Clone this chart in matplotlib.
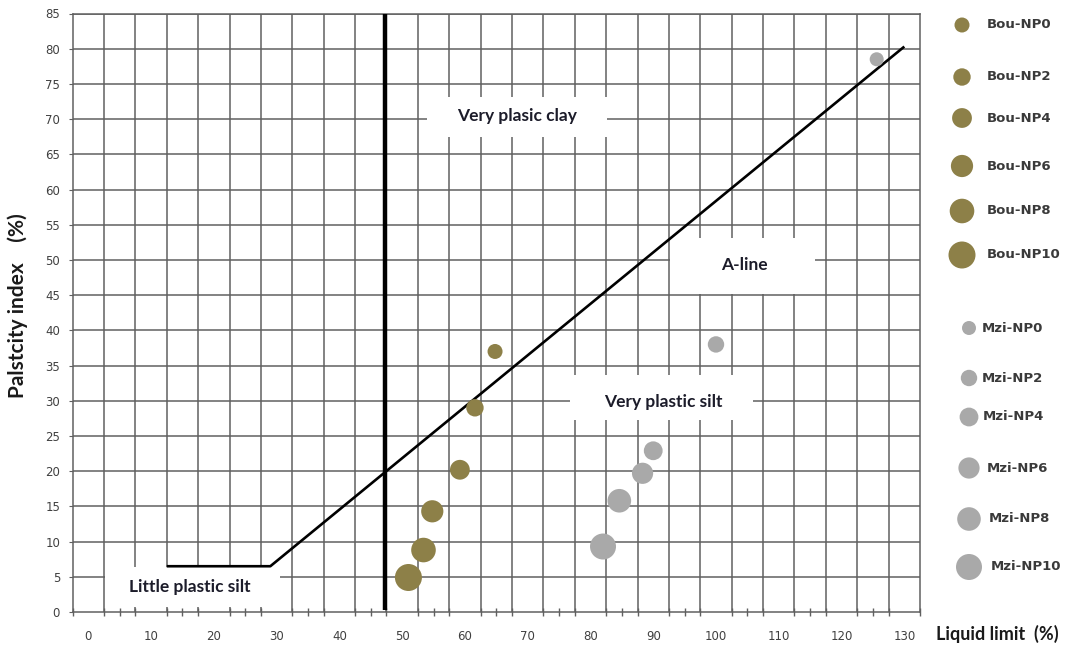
import matplotlib
matplotlib.use("Agg")
import matplotlib.pyplot as plt
from matplotlib.patches import Rectangle

# Liquid limit / plasticity index of the samples
bou_labels = ["Bou-NP0", "Bou-NP2", "Bou-NP4", "Bou-NP6", "Bou-NP8", "Bou-NP10"]
bou_ll = [64.8, 61.6, 59.2, 54.8, 53.4, 51.0]
bou_pi = [37.0, 29.0, 20.2, 14.3, 8.8, 4.9]

mzi_labels = ["Mzi-NP0", "Mzi-NP2", "Mzi-NP4", "Mzi-NP6", "Mzi-NP8", "Mzi-NP10"]
mzi_ll = [125.6, 100.0, 90.0, 88.3, 84.6, 82.0]
mzi_pi = [78.5, 38.0, 22.9, 19.7, 15.8, 9.3]

# A-line (with horizontal part) and the LL boundary
a_line_ll = [12.5, 29, 130]
a_line_pi = [6.5, 6.5, 80.3]
ll_limit = 47.2

x_ticks = list(range(0, 131, 10))
y_ticks = list(range(0, 86, 5))

BOU_COLOR = "#8d8048"
MZI_COLOR = "#a9a9a9"
GRID = "#606060"

W, H = 1075, 648
fig = plt.figure(figsize=(W / 100, H / 100), dpi=100)
ax = fig.add_axes([72.6 / W, 1 - 612 / H, (920 - 72.6) / W, (612 - 13.5) / H])

ax.set_xlim(-2.5, 132.5)
ax.set_ylim(0, 85)

# grid: vertical lines sit between the labelled values
for gx in [2.5 + 5 * k for k in range(26)]:
    ax.axvline(gx, color=GRID, lw=1.1, zorder=1)
for gy in y_ticks[1:]:
    ax.axhline(gy, color=GRID, lw=1.1, zorder=1)

for s in ax.spines.values():
    s.set_color(GRID)
    s.set_linewidth(1.1)

ax.set_xticks(x_ticks)
ax.set_xticks([-2.5 + 2.5 * k for k in range(55)], minor=True)
ax.set_yticks(y_ticks)
ax.tick_params(axis="x", which="major", length=0, pad=13, labelsize=8.5, labelcolor="#404040")
ax.tick_params(axis="x", which="minor", direction="inout", length=6, color=GRID, width=1)
ax.tick_params(axis="y", which="major", length=3, color=GRID, pad=6, labelsize=8.5, labelcolor="#404040")

# white label boxes over the grid
boxes = [
    (53.9, 67.5, 28.7, 5.7, 68.3, 70.5, "Very plasic clay"),
    (92.7, 45.2, 23.1, 7.9, 104.5, 49.3, "A-line"),
    (76.8, 27.3, 29.1, 6.4, 91.6, 29.8, "Very plastic silt"),
    (2.7, 0.7, 27.8, 5.7, 16.2, 3.6, "Little plastic silt"),
]
for bx, by, bw, bh, tx, ty, txt in boxes:
    ax.add_patch(Rectangle((bx, by), bw, bh, facecolor="white", edgecolor="none", zorder=2))
    ax.text(tx, ty, txt, ha="center", va="center", fontsize=12.5, family="Lato",
            fontweight="bold", color="#1c1c2a", zorder=3)

ax.plot(a_line_ll, a_line_pi, color="black", lw=1.9, zorder=4, solid_capstyle="butt")
ax.plot([ll_limit, ll_limit], [0.3, 85], color="black", lw=3.2, zorder=4, solid_capstyle="butt")

def marker_sizes(d0, d1, n):
    return [(0.72 * (d0 + (d1 - d0) * i / (n - 1))) ** 2 for i in range(n)]

bou_s = marker_sizes(15, 27, len(bou_ll))
mzi_s = marker_sizes(14, 26, len(mzi_ll))
ax.scatter(bou_ll, bou_pi, s=bou_s, color=BOU_COLOR, edgecolors="none", zorder=5)
ax.scatter(mzi_ll, mzi_pi, s=mzi_s, color=MZI_COLOR, edgecolors="none", zorder=5)

# axis titles
fig.text(18 / W, 1 - 306 / H, "Palstcity index    (%)", rotation=90, ha="center", va="center",
         fontsize=15, fontweight="bold", family="Lato", color="#1a1a1a")
fig.text(997 / W, 1 - 634 / H, "Liquid limit  (%)", ha="center", va="center",
         fontsize=13, fontweight="bold", family="Lato", color="#1a1a1a")

# legend drawn by hand on the right
leg = fig.add_axes([0, 0, 1, 1], facecolor="none")
leg.set_xlim(0, W)
leg.set_ylim(H, 0)
leg.axis("off")
bou_rows = [25, 77, 118, 166, 211, 255]
mzi_rows = [328, 378, 417, 468, 519, 567]
mzi_text_x = [982, 982, 983, 987, 989, 991]
for lab, y, s in zip(bou_labels, bou_rows, bou_s):
    leg.scatter([962], [y], s=s, color=BOU_COLOR, edgecolors="none")
    leg.text(987, y, lab, ha="left", va="center", fontsize=9.5, fontweight="bold", color="#3a3a3a")
for lab, y, s, tx in zip(mzi_labels, mzi_rows, mzi_s, mzi_text_x):
    leg.scatter([969], [y], s=s, color=MZI_COLOR, edgecolors="none")
    leg.text(tx, y, lab, ha="left", va="center", fontsize=9.5, fontweight="bold", color="#3a3a3a")

fig.savefig("out.png", dpi=100)
